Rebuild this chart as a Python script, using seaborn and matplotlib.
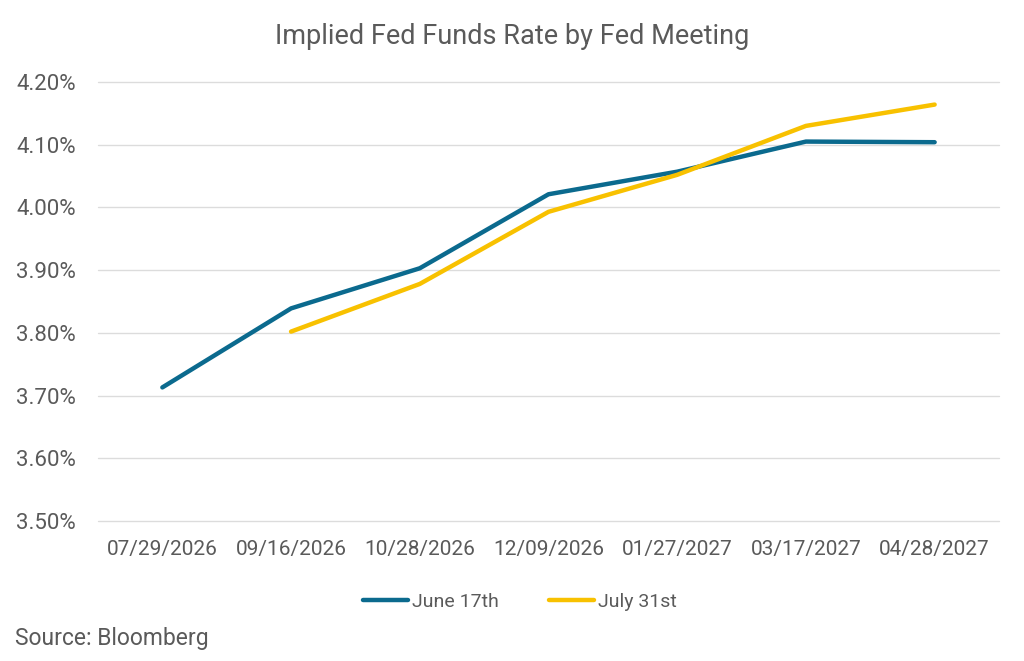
import numpy as np
import pandas as pd
import seaborn as sns
import matplotlib.pyplot as plt
from matplotlib.ticker import FuncFormatter

# chart data
meetings = ['07/29/2026', '09/16/2026', '10/28/2026', '12/09/2026',
            '01/27/2027', '03/17/2027', '04/28/2027']
june_17 = [3.713, 3.839, 3.903, 4.021, 4.057, 4.105, 4.104]
july_31 = [np.nan, 3.802, 3.878, 3.993, 4.052, 4.130, 4.164]
series_names = ['June 17th', 'July 31st']

df = pd.DataFrame({
    'meeting': meetings * 2,
    'pos': list(range(len(meetings))) * 2,
    'rate': june_17 + july_31,
    'series': [series_names[0]] * len(meetings) + [series_names[1]] * len(meetings),
}).dropna()

sns.set_theme(style='white')
plt.rcParams['font.family'] = ['Roboto', 'DejaVu Sans']
text_col = '#5a5a5a'

fig = plt.figure(figsize=(10.24, 6.61), dpi=100)
ax = fig.add_axes([98 / 1024, 1 - 521 / 661, 901 / 1024, 439 / 661])

sns.lineplot(data=df, x='pos', y='rate', hue='series',
             palette=['#0b6a8e', '#f8c100'], linewidth=3.2,
             solid_capstyle='round', ax=ax, legend=True)

ax.set_xlim(-0.5, len(meetings) - 0.5)
ax.set_ylim(3.5, 4.2)
ax.set_yticks(np.arange(3.5, 4.21, 0.1))
ax.yaxis.set_major_formatter(FuncFormatter(lambda v, p: f'{v:.2f}%'))
ax.set_xticks(range(len(meetings)))
ax.set_xticklabels(meetings)
ax.grid(axis='y', color='#dcdcdc', linewidth=1)
for gl in ax.get_ygridlines():
    gl.set_clip_on(False)
ax.set_axisbelow(True)
for s in ax.spines.values():
    s.set_visible(False)
ax.tick_params(axis='x', length=0, labelsize=15, colors=text_col, pad=14)
ax.tick_params(axis='y', length=0, labelsize=16, colors=text_col, pad=16)
ax.set_xlabel('')
ax.set_ylabel('')

fig.text(0.5, 1 - 37 / 661, 'Implied Fed Funds Rate by Fed Meeting',
         ha='center', va='center', fontsize=19.5, color=text_col)

leg = ax.legend(loc='center', bbox_to_anchor=(520 / 1024, 1 - 602 / 661),
                bbox_transform=fig.transFigure, ncol=2, frameon=False,
                fontsize=14, handlelength=2.3, handletextpad=0.2,
                columnspacing=2.6)
for t in leg.get_texts():
    t.set_color(text_col)

fig.text(15 / 1024, 1 - 638 / 661, 'Source: Bloomberg', ha='left', va='center',
         fontsize=16.5, color=text_col)

fig.savefig('out.png', dpi=100)
